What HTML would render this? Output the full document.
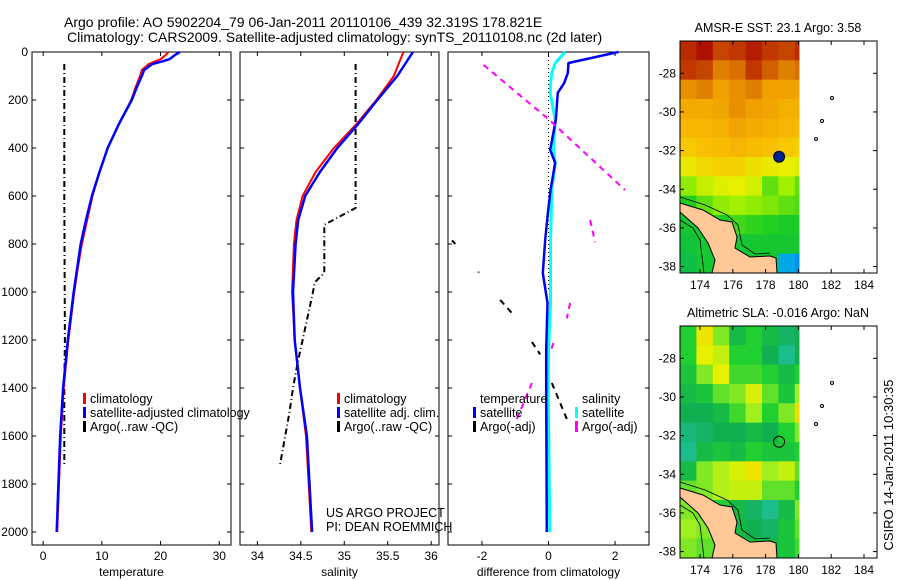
<!DOCTYPE html>
<html><head><meta charset="utf-8">
<style>
html,body{margin:0;padding:0;background:#fff;}
svg{display:block;font-family:"Liberation Sans",sans-serif;}
text{fill:#000;}
</style></head>
<body>
<svg id="c" width="900" height="580" viewBox="0 0 900 580" xmlns="http://www.w3.org/2000/svg">
<text x="64" y="27" font-size="14">Argo profile: AO 5902204_79 06-Jan-2011 20110106_439 32.319S 178.821E</text>
<text x="67" y="42" font-size="14">Climatology: CARS2009. Satellite-adjusted climatology: synTS_20110108.nc (2d later)</text>
<g id="g"></g>
<text transform="translate(893,465) rotate(-90)" text-anchor="middle" font-size="13">CSIRO 14-Jan-2011 10:30:35</text>
</svg>
<script>
// ---------- profile data ----------
const tDepth = [0,10,30,40,50,75,100,150,200,250,300,400,500,600,700,800,900,1000,1200,1400,1600,1800,2000];
const tempSat = [23.3,22.6,21.5,20.2,18.6,17.2,16.8,15.9,15.1,14.0,12.9,11.0,9.6,8.3,7.3,6.4,5.8,5.2,4.2,3.4,2.9,2.6,2.3];
const tempClim = [21.3,21.0,20.0,19.0,18.0,16.8,16.5,15.7,15.0,14.0,12.9,11.0,9.6,8.4,7.5,6.6,5.9,5.3,4.3,3.5,3.0,2.7,2.4];
const argoTDepth = [50,300,600,900,1200,1400,1600,1720];
const argoTemp = [3.6,3.6,3.6,3.65,3.7,3.6,3.6,3.6];
const sDepth = [0,100,200,300,400,500,600,700,800,1000,1200,1300,1400,1600,1800,2000];
const salSat = [35.79,35.61,35.38,35.16,34.92,34.72,34.55,34.47,34.44,34.41,34.43,34.46,34.49,34.57,34.60,34.63];
const salClim = [35.68,35.57,35.37,35.14,34.88,34.67,34.52,34.45,34.42,34.40,34.43,34.46,34.49,34.56,34.59,34.62];
const argoSDepth = [50,650,720,920,960,1000,1100,1200,1300,1400,1500,1600,1720];
const argoSal = [35.13,35.13,34.77,34.77,34.66,34.64,34.58,34.52,34.46,34.41,34.37,34.32,34.26];
const dDepth = [0,46,88,130,170,283,408,462,575,687,783,921,1046,1242,1408,2000];
const dTempSat = [2.1,0.6,0.58,0.47,0.28,0.22,0.05,0.2,0.06,-0.03,-0.1,-0.17,-0.03,-0.07,-0.07,-0.05];
const dSalSat = [0.5,0.2,0.1,0.06,0.05,0.2,0.15,0.2,0.1,0.08,0.06,0.06,0.06,0.0,-0.01,0.04];
const dArgoSDepth = [54,280,575,null,700,792,null,1046,1110,null,1212,1250,null,1379,1546];
const dArgoSal = [-1.95,0,2.3,null,1.25,1.4,null,0.65,0.55,null,0.15,0.05,null,-0.5,-1.0];
const dArgoTDepth = [785,800,null,915,919,null,1033,1088,null,1208,1260,null,1379,1546];
const dArgoTemp = [-2.9,-2.8,null,-2.1,-2.1,null,-1.45,-1.1,null,-0.5,-0.25,null,0.1,0.6];
const depthTicks = [0,200,400,600,800,1000,1200,1400,1600,1800,2000];
const tempTicks = [0,10,20,30];
const salTicks = [34,34.5,35,35.5,36];
const salTickLabels = ["34","34.5","35","35.5","36"];
const diffTicks = [-2,0,2];
// ---------- map data (1-degree cells, rows lat 26.3->38.3, cols lon 172.8->180.8) ----------
const sstRows = [
 [24.6,24.8,24.4,24.5,24.7,24.5,24.4,24.6],
 [24.5,24.4,24.0,24.1,24.5,24.2,24.0,24.1],
 [23.9,24.0,23.8,23.9,24.0,23.8,23.8,23.7],
 [23.6,23.6,23.7,23.9,23.8,23.7,23.5,23.5],
 [23.4,23.4,23.5,23.7,23.6,23.5,23.4,23.3],
 [23.1,23.2,23.3,23.4,23.3,23.2,23.1,23.0],
 [22.7,22.9,23.0,23.0,22.8,22.7,22.6,22.5],
 [21.9,22.3,22.5,22.6,22.4,21.6,22.0,21.6],
 [21.2,21.6,21.9,22.0,21.9,21.8,21.6,21.5],
 [21.0,21.0,21.2,21.4,21.3,21.2,21.1,21.1],
 [20.9,21.0,21.0,21.0,21.0,21.0,21.0,21.0],
 [20.8,21.0,21.0,21.0,21.0,21.0,19.6,19.4]];
const slaRows = [
 [0.0,0.09,0.03,-0.02,0.0,-0.02,-0.04,-0.03],
 [0.0,0.08,0.06,0.0,0.0,-0.03,-0.06,-0.03],
 [-0.01,0.03,0.08,0.01,0.01,0.0,-0.02,0.0],
 [-0.02,-0.01,0.02,0.03,0.07,0.02,-0.01,0.04],
 [-0.03,-0.03,-0.02,0.01,0.04,0.0,0.03,0.10],
 [-0.05,-0.04,-0.03,-0.03,-0.02,-0.03,0.0,0.03],
 [-0.06,-0.02,-0.01,-0.02,0.0,-0.01,-0.01,0.0],
 [-0.02,0.03,0.05,0.07,0.09,0.04,0.06,0.02],
 [0.02,0.03,0.05,0.06,0.06,0.02,0.02,0.0],
 [0.03,0.02,0.0,-0.02,-0.04,-0.06,-0.02,0.03],
 [0.04,0.03,0.0,-0.02,-0.03,-0.04,-0.01,0.02],
 [0.03,0.02,0.02,0.0,-0.01,-0.02,-0.01,0.01]];
const mapLonTicks = [174,176,178,180,182,184];
const mapLatTicks = [28,30,32,34,36,38];
const argoLon = 178.821, argoLat = 32.319;

const NS='http://www.w3.org/2000/svg';
const G=document.getElementById('g');
function mk(tag,attrs,parent){const e=document.createElementNS(NS,tag);for(const k in attrs)e.setAttribute(k,attrs[k]);(parent||G).appendChild(e);return e;}
function txt(x,y,s,size,anchor,parent){const t=mk('text',{x:x,y:y,'font-size':size||12,'text-anchor':anchor||'start'},parent);t.textContent=s;return t;}

const yD = d => 52 + d*0.24;
const PT=52, PB=545;
function panel(name,x0,x1,d0,d1){return {name:name,x0:x0,x1:x1,sx:v=>x0+(v-d0)/(d1-d0)*(x1-x0)};}
const P1=panel('temperature',32,231,-1.9,32);
const P2=panel('salinity',240,439,33.8,36.09);
const P3=panel('difference',448,649,-3.02,3.02);

function frame(P,ticks,labels,title,leftLabels){
  const g=mk('g',{});
  
  
  mk('rect',{x:P.x0,y:PT,width:P.x1-P.x0,height:PB-PT,fill:'none',stroke:'#000','stroke-width':1},g);
  ticks.forEach((v,i)=>{const x=P.sx(v);
    mk('line',{x1:x,x2:x,y1:PT,y2:PT+4,stroke:'#000'},g);
    mk('line',{x1:x,x2:x,y1:PB,y2:PB-4,stroke:'#000'},g);
    const t=txt(x,560,labels[i],12,'middle',g);
    
    
  });
  depthTicks.forEach(d=>{const y=yD(d);
    mk('line',{x1:P.x0,x2:P.x0+4,y1:y,y2:y,stroke:'#000'},g);
    mk('line',{x1:P.x1,x2:P.x1-4,y1:y,y2:y,stroke:'#000'},g);
    if(leftLabels){const t=txt(P.x0-4,y+4,String(d),12,'end',g);
      
      }
  });
  const at=txt((P.x0+P.x1)/2,576,title,12,'middle',g);
  
  
  return g;
}
function line(P,depths,vals,color,w,dash,name){
  let d='',pen=false;
  for(let i=0;i<depths.length;i++){
    if(depths[i]===null||vals[i]===null){pen=false;continue;}
    d+=(pen?'L':'M')+P.sx(vals[i]).toFixed(1)+','+yD(depths[i]).toFixed(1);pen=true;
  }
  const p=mk('path',{d:d,fill:'none',stroke:color,'stroke-width':w,'stroke-dasharray':dash||'none','stroke-linejoin':'round'});
  
  
  return p;
}
function legend(x,y,items){
  const g=mk('g',{});
  items.forEach((it,i)=>{
    if(it.c){const m=mk('rect',{x:x,y:y+i*14-5,width:3,height:11,fill:it.c},g);
      
      }
    const t=txt(x+(it.c||it.indent?7:0),y+i*14+5,it.t,12.5,'start',g);
    
    
  });
}

frame(P1,tempTicks,tempTicks.map(String),'temperature',true);
frame(P2,salTicks,salTickLabels,'salinity',false);
frame(P3,diffTicks,diffTicks.map(String),'difference from climatology',false);

line(P1,argoTDepth,argoTemp,'#000',2,'6,3,1,3','argo-temperature-line');
line(P1,tDepth,tempClim,'#f00',2,null,'temperature-climatology-line');
line(P1,tDepth,tempSat,'#00f',2.5,null,'temperature-satellite-line');
legend(83,398,[{t:'climatology',c:'#f00'},{t:'satellite-adjusted climatology',c:'#00f'},{t:'Argo(..raw -QC)',c:'#000'}]);
line(P2,argoSDepth,argoSal,'#000',2,'6,3,1,3','argo-salinity-line');
line(P2,sDepth,salClim,'#f00',2,null,'salinity-climatology-line');
line(P2,sDepth,salSat,'#00f',2.5,null,'salinity-satellite-line');
legend(337,398,[{t:'climatology',c:'#f00'},{t:'satellite adj. clim.',c:'#00f'},{t:'Argo(..raw -QC)',c:'#000'}]);
let t1=txt(326,517,'US ARGO PROJECT',12.5);


let t2=txt(326,531,'PI: DEAN ROEMMICH',12.5);


let zl=mk('line',{x1:P3.sx(0),x2:P3.sx(0),y1:PT,y2:yD(1000),stroke:'#000','stroke-dasharray':'1,3'});


line(P3,dDepth,dSalSat,'#0ff',3,null,'salinity-diff-satellite-line');
line(P3,dDepth,dTempSat,'#00e',2.5,null,'temperature-diff-satellite-line');
line(P3,dArgoSDepth,dArgoSal,'#f0f',2,'6,5','salinity-diff-argo-line');
line(P3,dArgoTDepth,dArgoTemp,'#000',2,'6,5','temperature-diff-argo-line');
legend(473,398,[{t:'temperature',indent:true},{t:'satellite',c:'#00f'},{t:'Argo(-adj)',c:'#000'}]);
legend(575,398,[{t:'salinity',indent:true},{t:'satellite',c:'#0ff'},{t:'Argo(-adj)',c:'#f0f'}]);

function lerpColor(stops,v){
  if(v<=stops[0][0])return '#'+stops[0][1];
  for(let i=1;i<stops.length;i++){if(v<=stops[i][0]){const a=stops[i-1],b=stops[i];const f=(v-a[0])/(b[0]-a[0]);
    const ca=a[1].match(/\w\w/g).map(h=>parseInt(h,16)),cb=b[1].match(/\w\w/g).map(h=>parseInt(h,16));
    return '#'+ca.map((c,j)=>Math.round(c+(cb[j]-c)*f).toString(16).padStart(2,'0')).join('');}}
  return '#'+stops[stops.length-1][1];
}
const sstStops=[[19,'0060ff'],[19.8,'00c0e0'],[20.5,'00b060'],[21.2,'20d020'],[22,'a0f000'],[22.6,'e8f000'],[23.2,'f8c000'],[23.8,'f0a000'],[24.2,'d06000'],[24.8,'b01000']];
const slaStops=[[-0.07,'20c0a0'],[-0.03,'10b050'],[0,'20d030'],[0.04,'a0f020'],[0.08,'e8f000'],[0.11,'f8d000']];
function drawMap(top,rows,stops,title,name,filled){
  const g=mk('g',{});
  
  
  const L=680,R=877,T=top,B=top+232;
  const sx=lon=>L+(lon-172.78)*16.4, sy=lat=>T+(lat-26.33)*19.33;
  rows.forEach((row,ri)=>row.forEach((v,ci)=>{
    const x0=sx(172.78+ci),x1=Math.min(sx(172.78+ci+1),799);
    if(x0>=799)return;
    const c=mk('rect',{x:x0,y:sy(26.33+ri),width:x1-x0+0.5,height:19.83,fill:lerpColor(stops,v)},g);
    
    
  }));
  const o=T-41;
  const land=mk('polygon',{points:[[680,203],[703,210],[720,220],[732,222],[737,237],[735,248],[750,257],[770,256],[776,258],[777,273],[712,273],[715,260],[708,243],[698,228],[680,212]].map(p=>p[0]+','+(p[1]+o)).join(' '),fill:'#ffc896',stroke:'#000','stroke-width':1},g);
  
  
  mk('polyline',{points:[[680,197],[705,205],[727,215],[738,225],[742,245],[755,254],[770,253]].map(p=>p[0]+','+(p[1]+o)).join(' '),fill:'none',stroke:'#000','stroke-width':0.8},g);
  mk('polyline',{points:[[680,220],[693,228],[700,240],[704,273]].map(p=>p[0]+','+(p[1]+o)).join(' '),fill:'none',stroke:'#000','stroke-width':0.8},g);
  [[832,98],[822,121],[816,139]].forEach(p=>mk('circle',{cx:p[0],cy:p[1]+o,r:1.5,fill:'none',stroke:'#000'},g));
  const dot=mk('circle',{cx:sx(argoLon),cy:sy(argoLat),r:5.5,fill:filled?'#002090':'none',stroke:'#000','stroke-width':1},g);
  
  
  mk('rect',{x:L,y:T,width:R-L,height:B-T,fill:'none',stroke:'#000'},g);
  mapLonTicks.forEach(v=>{const x=sx(v);mk('line',{x1:x,x2:x,y1:T,y2:T+4,stroke:'#000'},g);mk('line',{x1:x,x2:x,y1:B,y2:B-4,stroke:'#000'},g);
    const t=txt(x,B+16,String(v),12,'middle',g);});
  mapLatTicks.forEach(v=>{const y=sy(v);mk('line',{x1:L,x2:L+4,y1:y,y2:y,stroke:'#000'},g);mk('line',{x1:R,x2:R-4,y1:y,y2:y,stroke:'#000'},g);
    const t=txt(L-4,y+4,'-'+v,12,'end',g);});
  const tt=txt(778,T-9,title,12.5,'middle',g);
  
  
}
drawMap(41,sstRows,sstStops,'AMSR-E SST: 23.1  Argo: 3.58','sst-map',true);
drawMap(326,slaRows,slaStops,'Altimetric SLA: -0.016  Argo: NaN','sla-map',false);
</script>
</body></html>
